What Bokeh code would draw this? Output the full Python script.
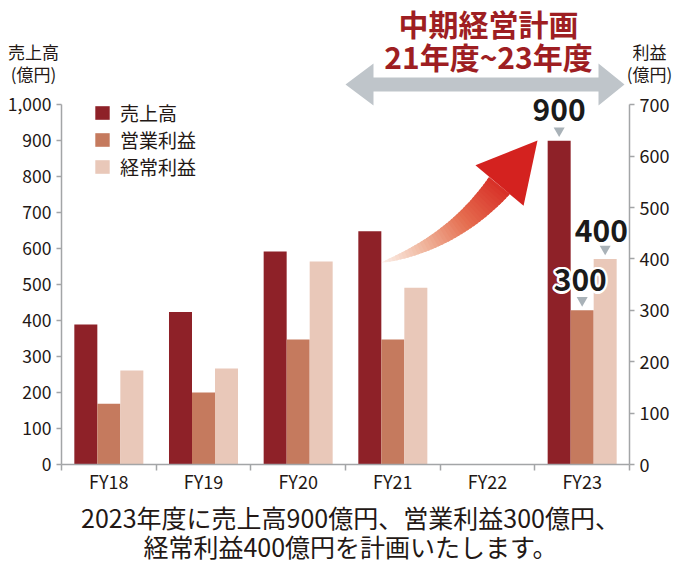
import numpy as np
from bokeh.plotting import figure
from bokeh.models import (Range1d, LinearAxis, FixedTicker, NumeralTickFormatter, Label,
                          Legend, LegendItem, ColumnDataSource)
from bokeh.embed import file_html
from bokeh.resources import INLINE

# ---------------- data ----------------
categories = ["FY18", "FY19", "FY20", "FY21", "FY22", "FY23"]
sales = [389, 424, 592, 648, None, 900]             # 売上高 (left axis, 億円)
operating_profit = [118, 140, 243, 243, None, 300]  # 営業利益 (right axis, 億円)
ordinary_profit = [183, 187, 395, 344, None, 400]   # 経常利益 (right axis, 億円)
series_names = ["売上高", "営業利益", "経常利益"]
left_ticks = [0, 100, 200, 300, 400, 500, 600, 700, 800, 900, 1000]
right_ticks = [0, 100, 200, 300, 400, 500, 600, 700]
plan_title = ["中期経営計画", "21年度~23年度"]
caption = ["2023年度に売上高900億円、営業利益300億円、", "経常利益400億円を計画いたします。"]
left_title = ["売上高", "(億円)"]
right_title = ["利益", "(億円)"]

# ---------------- layout (page pixel geometry) ----------------
W, H = 672, 563
OX, OY = 2, 1                 # where the canvas lands in the screenshot
AX_L, AX_R = 63.0, 631.0      # page x of left / right axis
Y_ZERO, Y_TOP = 465.0, 105.2  # page y of 0 and of the axis maximum
LEFT_MAX, RIGHT_MAX = 1000.0, 700.0
FONT = "Noto Sans CJK JP"
C_SALES, C_OP, C_ORD = "#8E2128", "#C57A5E", "#E9C8B9"
AX = "#A3A5A7"
TXT = "#231815"

n_cat = len(categories)
cat_px = (AX_R - AX_L) / n_cat
ppu_left = (Y_ZERO - Y_TOP) / LEFT_MAX
ppu_right = (Y_ZERO - Y_TOP) / RIGHT_MAX

def dx(px):
    return (px - AX_L) / cat_px - 0.5

def dy(py):
    return (Y_ZERO - py) / ppu_left

ratio = LEFT_MAX / RIGHT_MAX
p = figure(width=W, height=H, output_backend="svg", toolbar_location=None,
           x_range=Range1d(dx(OX), dx(OX + W)), y_range=Range1d(dy(OY + H), dy(OY)),
           min_border_left=0, min_border_right=0, min_border_top=0, min_border_bottom=0)
p.extra_y_ranges = {"right": Range1d(dy(OY + H) / ratio, dy(OY) / ratio)}
p.outline_line_color = None
p.xgrid.visible = False
p.ygrid.visible = False
p.background_fill_color = "white"

# ---------------- bars ----------------
idx = np.arange(n_cat, dtype=float)
def arr(v):
    return np.array([np.nan if a is None else a for a in v], dtype=float)

bw = 0.243
src0 = ColumnDataSource(dict(x=idx - bw, v=arr(sales)))
src1 = ColumnDataSource(dict(x=idx, v=arr(operating_profit)))
src2 = ColumnDataSource(dict(x=idx + bw, v=arr(ordinary_profit)))
r1 = p.vbar(x="x", top="v", width=bw, source=src0, color=C_SALES, line_color=None)
r2 = p.vbar(x="x", top="v", width=bw, source=src1, color=C_OP, line_color=None, y_range_name="right")
r3 = p.vbar(x="x", top="v", width=bw, source=src2, color=C_ORD, line_color=None, y_range_name="right")

# ---------------- axes ----------------
xa = p.xaxis[0]
xa.fixed_location = 0
xa.bounds = (-0.5, n_cat - 0.5)
xa.ticker = FixedTicker(ticks=list(range(n_cat)), minor_ticks=[i - 0.5 for i in range(n_cat + 1)])
xa.major_label_overrides = {i: c for i, c in enumerate(categories)}
xa.major_tick_out = 0
xa.major_tick_in = 0
xa.minor_tick_out = 6
xa.minor_tick_in = 0
xa.minor_tick_line_color = AX
xa.minor_tick_line_width = 1.5
xa.major_label_standoff = -3

ya = p.yaxis[0]
ya.fixed_location = -0.5
ya.ticker = FixedTicker(ticks=left_ticks)
ya.formatter = NumeralTickFormatter(format="0,0")
ya.bounds = (0, LEFT_MAX)
ya.minor_tick_line_color = None
ya.major_tick_out = 5
ya.major_tick_in = 0
ya.major_label_standoff = 5

ra = LinearAxis(y_range_name="right", ticker=FixedTicker(ticks=right_ticks), bounds=(0, RIGHT_MAX),
                fixed_location=n_cat - 0.5)
ra.minor_tick_line_color = None
ra.major_tick_out = 5
ra.major_tick_in = 0
ra.major_label_standoff = 5
p.add_layout(ra, "right")

for a in [xa, ya, ra]:
    a.axis_line_color = AX
    a.axis_line_width = 1.5
    a.major_tick_line_color = AX
    a.major_tick_line_width = 1.5
    a.major_label_text_font = FONT
    a.major_label_text_font_size = "18px"
    a.major_label_text_color = TXT
ya.major_label_text_font_size = "17.5px"
xa.major_label_text_font_size = "18px"

# ---------------- legend ----------------
legend = Legend(items=[LegendItem(label=series_names[0], renderers=[r1]),
                       LegendItem(label=series_names[1], renderers=[r2]),
                       LegendItem(label=series_names[2], renderers=[r3])],
                location=(93, (OY + H) - 181), orientation="vertical",
                border_line_color=None, background_fill_alpha=0,
                glyph_width=18, glyph_height=17, label_standoff=9, spacing=0,
                padding=0, margin=0,
                label_text_font=FONT, label_text_font_size="19px", label_text_color=TXT)
p.add_layout(legend)

# ---------------- gray double arrow ----------------
g_px = [(347, 85), (375, 64), (375, 78), (600, 78), (600, 64), (626, 85),
        (600, 106), (600, 92), (375, 92), (375, 106)]
p.patch([dx(a) for a, b in g_px], [dy(b) for a, b in g_px], color="#BFC5CA", line_color=None)

for i, t in enumerate(plan_title):
    p.add_layout(Label(x=dx(490), y=dy(23 + 33 * i), text=t, text_align="center",
                       text_baseline="middle", text_font=FONT, text_font_style="bold",
                       text_font_size="30px", text_color="#9E1E22"))

# ---------------- red curved arrow with gradient ----------------
P0 = np.array([383.0, 263.0]); P1 = np.array([455.0, 243.0]); P2 = np.array([501.0, 186.0])
TIP = np.array([539.0, 141.0])
def bez(t):
    return (1 - t) ** 2 * P0 + 2 * (1 - t) * t * P1 + t ** 2 * P2
def bez_d(t):
    return 2 * (1 - t) * (P1 - P0) + 2 * t * (P2 - P1)
def edge(t):
    d = bez_d(t); d = d / np.hypot(*d)
    n = np.array([d[1], -d[0]])
    w = 13.5 * t ** 0.75
    c = bez(t)
    return c + w * n, c - w * n

stops = [(0.0, (252, 240, 234)), (0.3, (240, 184, 160)), (0.65, (229, 110, 80)), (1.0, (216, 48, 40))]
def col(t):
    for (t0, c0), (t1, c1) in zip(stops[:-1], stops[1:]):
        if t <= t1:
            f = (t - t0) / (t1 - t0)
            c = [int(round(a + (b - a) * f)) for a, b in zip(c0, c1)]
            return "#%02x%02x%02x" % tuple(c)
    return "#%02x%02x%02x" % stops[-1][1]

N = 40
xs, ys, cs = [], [], []
for i in range(N):
    ta, tb = i / N, min(1.0, (i + 1.6) / N)
    ua, la = edge(ta); ub, lb = edge(tb)
    pts = [ua, ub, lb, la]
    xs.append([dx(q[0]) for q in pts]); ys.append([dy(q[1]) for q in pts])
    cs.append(col((i + 0.5) / N))
p.patches(xs, ys, fill_color=cs, line_color=None)
dd = TIP - P2; dd = dd / np.hypot(*dd); nn = np.array([dd[1], -dd[0]])
head = [P2 + 31.5 * nn, TIP, P2 - 31.5 * nn]
p.patch([dx(q[0]) for q in head], [dy(q[1]) for q in head], color="#D4221F", line_color=None)

# ---------------- FY23 callouts ----------------
last = n_cat - 1
tri_gap = 10
p.scatter(x=[idx[last] - bw], y=[sales[last] + tri_gap / ppu_left], marker="inverted_triangle",
          size=11, color="#A9B2B8", line_color=None)
p.scatter(x=[idx[last], idx[last] + bw],
          y=[operating_profit[last] + tri_gap / ppu_right, ordinary_profit[last] + tri_gap / ppu_right],
          marker="inverted_triangle", size=11, color="#A9B2B8", line_color=None, y_range_name="right")

def callout(x, y, text, yoff, rng=None, halo=False):
    kw = dict(x=x, y=y, text=text, text_align="center", text_baseline="middle", text_font=FONT,
              text_font_style="bold", text_font_size="30px")
    if rng:
        kw["y_range_name"] = rng
    if halo:
        for ang in np.linspace(0, 2 * np.pi, 12, endpoint=False):
            p.add_layout(Label(x_offset=2.2 * np.cos(ang), y_offset=yoff + 2.2 * np.sin(ang),
                               text_color="white", **kw))
    p.add_layout(Label(y_offset=yoff, text_color="#1a1a1a", **kw))

callout(idx[last] - bw, sales[last], str(sales[last]), 31)
callout(idx[last] - 0.02, operating_profit[last], str(operating_profit[last]), 30, "right", halo=True)
callout(idx[last] + bw - 0.04, ordinary_profit[last], str(ordinary_profit[last]), 28, "right")

# ---------------- axis titles & caption ----------------
for i, t in enumerate(left_title):
    p.add_layout(Label(x=dx(35), y=dy(52 + 22 * i), text=t, text_align="center", text_baseline="middle",
                       text_font=FONT, text_font_size="17px", text_color=TXT))
for i, t in enumerate(right_title):
    p.add_layout(Label(x=dx(651), y=dy(52 + 22 * i), text=t, text_align="center", text_baseline="middle",
                       text_font=FONT, text_font_size="17px", text_color=TXT))
for i, t in enumerate(caption):
    p.add_layout(Label(x=dx(352), y=dy(517 + 29 * i), text=t, text_align="center", text_baseline="middle",
                       text_font=FONT, text_font_size="25px", text_color=TXT))

open("out.html", "w").write(file_html(p, INLINE))
